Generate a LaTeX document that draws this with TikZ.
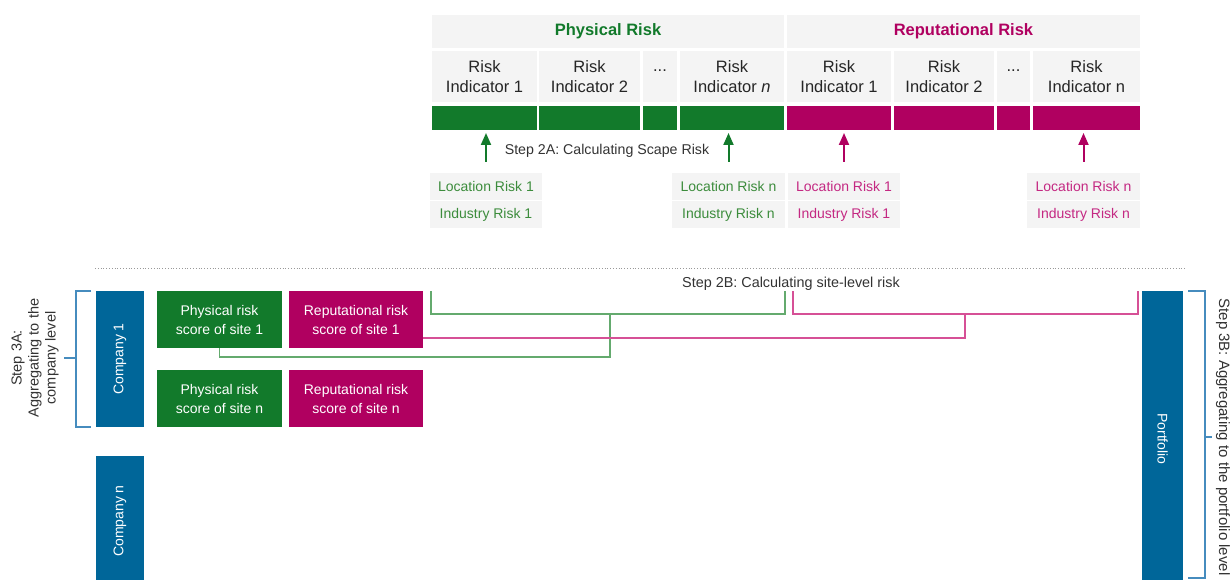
\documentclass[tikz,border=0pt]{standalone}
\usepackage{fontspec}
\setmainfont{Liberation Sans}
\usetikzlibrary{arrows.meta}
\definecolor{prgreen}{RGB}{18,122,43}
\definecolor{rrpink}{RGB}{176,0,96}
\definecolor{coblue}{RGB}{0,102,153}
\definecolor{cellgrey}{RGB}{244,244,244}
\definecolor{gtext}{RGB}{60,140,60}
\definecolor{ptext}{RGB}{196,40,130}
\definecolor{gwire}{RGB}{100,170,110}
\definecolor{pwire}{RGB}{214,80,150}
\definecolor{bwire}{RGB}{70,140,190}

\begin{document}
\begin{tikzpicture}[
	x = 1pt, y = -1pt,
	every node/.style = {inner sep = 0pt, outer sep = 0pt, anchor = north west, align = center},
	head/.style = {fill = cellgrey, minimum width = #1, minimum height = 33pt, font = \fontsize{16.5}{18}\selectfont\bfseries},
	ind/.style = {fill = cellgrey, minimum width = #1, minimum height = 51pt, text = black!85, font = \fontsize{16.5}{19.5}\selectfont},
	bar/.style = {minimum width = #1, minimum height = 24pt},
	src/.style = {fill = cellgrey, minimum width = #1, minimum height = 27pt, font = \fontsize{14}{16}\selectfont},
	site/.style = {minimum width = #1, minimum height = 57pt, text = white, font = \fontsize{14}{19}\selectfont},
	firm/.style = {anchor = center, fill = coblue, text = white, minimum height = 48pt, minimum width = #1, rotate = 90, font = \fontsize{14}{16}\selectfont},
	note/.style = {anchor = center, text = black!80, font = \fontsize{#1}{17}\selectfont},
	garrow/.style = {draw = prgreen, line width = 2pt, -{Triangle[length = 12pt, width = 10pt]}, shorten < = 11pt, shorten > = 3pt},
	parrow/.style = {draw = rrpink, line width = 2pt, -{Triangle[length = 12pt, width = 10pt]}, shorten < = 11pt, shorten > = 3pt},
	gline/.style = {draw = gwire, line width = 1.2pt},
	pline/.style = {draw = pwire, line width = 1.2pt},
	bline/.style = {draw = bwire, line width = 1.2pt}
	]
	\useasboundingbox (0,0) rectangle (1232,580);

	\node[head = 352pt, text = prgreen] (phys) at (432,15) {Physical Risk};
	\node[head = 353pt, text = rrpink] (repu) at (787,15) {Reputational Risk};

	\node[ind = 105pt] (pi1) at (432,51) {Risk\\Indicator 1};
	\node[ind = 101pt] (pi2) at (539,51) {Risk\\Indicator 2};
	\node[ind = 34pt] (pid) at (643,51) {\vphantom{Rk}...\\\vphantom{Ig}};
	\node[ind = 104pt] (pin) at (680,51) {Risk\\Indicator \textit{n}};
	\node[ind = 104pt] (ri1) at (787,51) {Risk\\Indicator 1};
	\node[ind = 100pt] (ri2) at (894,51) {Risk\\Indicator 2};
	\node[ind = 33pt] (rid) at (997,51) {\vphantom{Rk}...\\\vphantom{Ig}};
	\node[ind = 107pt] (rin) at (1033,51) {Risk\\Indicator n};

	\node[bar = 105pt, fill = prgreen] (pb1) at (432,106) {};
	\node[bar = 101pt, fill = prgreen] (pb2) at (539,106) {};
	\node[bar = 34pt, fill = prgreen] (pbd) at (643,106) {};
	\node[bar = 104pt, fill = prgreen] (pbn) at (680,106) {};
	\node[bar = 104pt, fill = rrpink] (rb1) at (787,106) {};
	\node[bar = 100pt, fill = rrpink] (rb2) at (894,106) {};
	\node[bar = 33pt, fill = rrpink] (rbd) at (997,106) {};
	\node[bar = 107pt, fill = rrpink] (rbn) at (1033,106) {};

	\node[note = 14.2] (step2a) at (607,151) {Step 2A: Calculating Scape Risk};

	\node[src = 112pt, text = gtext] (gl1) at (430,173) {Location Risk 1};
	\node[src = 112pt, text = gtext] (gi1) at (430,201) {Industry Risk 1};
	\node[src = 113pt, text = gtext] (gln) at (672,173) {Location Risk n};
	\node[src = 113pt, text = gtext] (gin) at (672,201) {Industry Risk n};
	\node[src = 112pt, text = ptext] (pl1) at (788,173) {Location Risk 1};
	\node[src = 112pt, text = ptext] (ip1) at (788,201) {Industry Risk 1};
	\node[src = 113pt, text = ptext] (pln) at (1027,173) {Location Risk n};
	\node[src = 113pt, text = ptext] (ipn) at (1027,201) {Industry Risk n};

	\draw[garrow] (gl1.north) -- (gl1.north |- pb1.south);
	\draw[garrow] (gln.north) -- (gln.north |- pbn.south);
	\draw[parrow] (pl1.north) -- (pl1.north |- rb1.south);
	\draw[parrow] (pln.north) -- (pln.north |- rbn.south);

	\draw[black!40, dotted, line width = 0.8pt] (95,268) -- (1185,268);

	\node[note = 14.4] (step2b) at (791,284) {Step 2B: Calculating site-level risk};

	\node[site = 125pt, fill = prgreen] (ps1) at (157,291) {Physical risk\\score of site 1};
	\node[site = 134pt, fill = rrpink] (rs1) at (289,291) {Reputational risk\\score of site 1};
	\node[site = 125pt, fill = prgreen] (psn) at (157,370) {Physical risk\\score of site n};
	\node[site = 134pt, fill = rrpink] (rsn) at (289,370) {Reputational risk\\score of site n};

	\node[firm = 136pt] (co1) at (120,359) {Company 1};
	\node[firm = 130pt] (con) at (120,521) {Company n};
	\node[firm = 296pt, minimum height = 41pt, rotate = 180] (port) at (1162.5,439) {Portfolio};

	\coordinate (ga) at (431,291);
	\coordinate (gb) at (785,291);
	\coordinate (gj) at (610,314);
	\draw[gline] (ga) |- (gj) -| (gb);
	\draw[gline] (gj) -- ++(0,43) -| (ps1.south);

	\coordinate (pa) at (793,291);
	\coordinate (pb) at (1138,291);
	\coordinate (pj) at (965,314);
	\draw[pline] (pa) |- (pj) -| (pb);
	\draw[pline] (pj) |- ([yshift = -18.5pt]rs1.east);

	\draw[bline] (91,291) -- (76,291) -- (76,427) -- (91,427);
	\draw[bline] (76,358) -- (64,358);
	\node[note = 14.5, rotate = 90] (step3a) at (35,358) {Step 3A:\\Aggregating to the\\company level};

	\draw[bline] (1188,291) -- (1205,291) -- (1205,578) -- (1188,578);
	\draw[bline] (1205,437) -- (1212,437);
	\node[note = 15, rotate = -90] (step3b) at (1223,437) {Step 3B: Aggregating to the portfolio level};
\end{tikzpicture}
\end{document}
